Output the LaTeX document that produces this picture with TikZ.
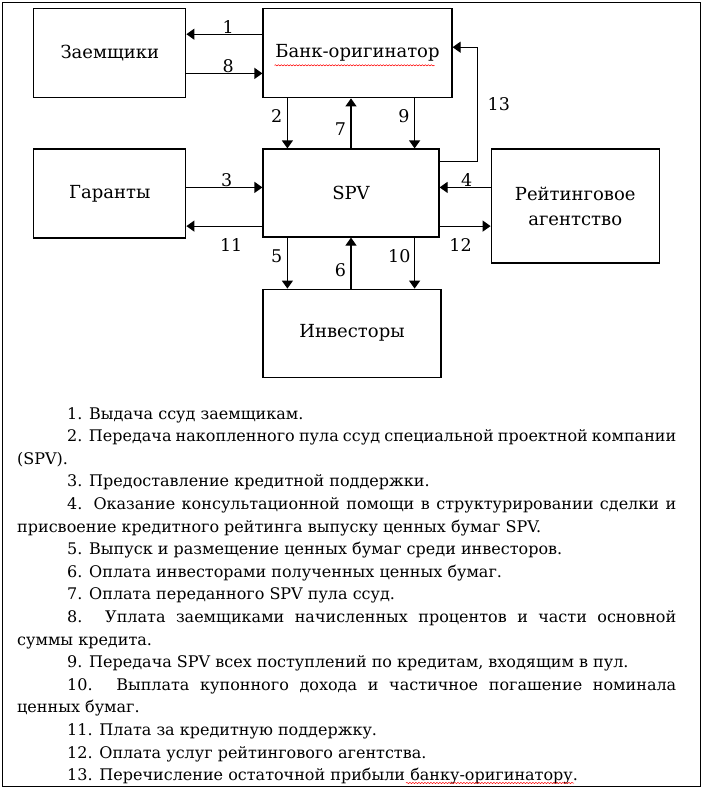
\documentclass[tikz,border=0pt]{standalone}
\usepackage{fontspec}
\setmainfont{DejaVu Serif}
\usetikzlibrary{arrows.meta,calc,positioning,decorations.pathmorphing}

\begin{document}
\begin{tikzpicture}[x=1pt, y=-1pt, node distance=50pt, >={Triangle[length=8pt,width=11pt]},
  box/.style={draw, line width=1.2pt, align=center, inner sep=0pt, font=\fontsize{18}{25}\selectfont},
  num/.style={inner sep=0.5pt, font=\fontsize{17.5}{19}\selectfont},
  link/.style={->, line width=1.2pt},
  wavy/.style={draw=red, line width=0.5pt, decorate, decoration={snake, amplitude=0.6pt, segment length=3pt}}]
  \useasboundingbox (0,0) rectangle (702,789);
  \draw[line width=1pt] (2.5,2.5) rectangle (700,786.5);
  \node[box, minimum width=176pt, minimum height=88pt] (spv) at (351,193) {SPV};
  \node[box, minimum width=189pt, minimum height=89pt, above=50pt of spv.north west, anchor=south west] (bank) {Банк-оригинатор};
  \node[box, minimum width=178pt, minimum height=88pt, below=51pt of spv.south west, anchor=north west] (inv) {Инвесторы};
  \node[box, minimum width=152pt, minimum height=89pt, left=76pt of spv.north west, anchor=north east] (gar) {Гаранты};
  \node[box, minimum width=152pt, minimum height=89pt, above=of gar] (zaem) {Заемщики};
  \node[box, minimum width=168pt, minimum height=114pt, right=51pt of spv.north east, anchor=north west] (rate) {Рейтинговое\\агентство};
  \coordinate (xl) at ($(spv.west)+(25,0)$);
  \coordinate (xr) at ($(spv.east)+(-25,0)$);
  \coordinate (xt) at ($(spv.east)+(38,0)$);
  \coordinate (ya) at ($(bank.north)+(0,26)$);
  \coordinate (yb) at ($(bank.south)+(0,-25)$);
  \coordinate (yc) at ($(spv.north)+(0,39)$);
  \coordinate (yd) at ($(spv.south)+(0,-11.5)$);
  \coordinate (ye) at ($(spv.north)+(0,13)$);
  \coordinate (yf) at ($(bank.north)+(0,39)$);
  \draw[link] (bank.west |- ya) -- node[num, above, pos=.45] (n1) {1} (zaem.east |- ya);
  \draw[link] (zaem.east |- yb) -- node[num, above, pos=.55] (n8) {8} (bank.west |- yb);
  \draw[link] (xl |- bank.south) -- node[num, left=4pt, pos=.36] (n2) {2} (xl |- spv.north);
  \draw[link] (spv.north) -- node[num, left=4pt, pos=.38] (n7) {7} (spv.north |- bank.south);
  \draw[link] (xr |- bank.south) -- node[num, left=4pt, pos=.36] (n9) {9} (xr |- spv.north);
  \draw[link] (gar.east |- yc) -- node[num, above, pos=.53] (n3) {3} (spv.west |- yc);
  \draw[link] (spv.west |- yd) -- node[num, below=11pt, pos=.41] (n11) {11} (gar.east |- yd);
  \draw[link] (rate.west |- yc) -- node[num, above, pos=.47] (n4) {4} (spv.east |- yc);
  \draw[link] (spv.east |- yd) -- node[num, below=11pt, pos=.41] (n12) {12} (rate.west |- yd);
  \draw[link] (xl |- spv.south) -- node[num, left=4pt, pos=.37] (n5) {5} (xl |- inv.north);
  \draw[link] (spv.south |- inv.north) -- node[num, left=4pt, pos=.37] (n6) {6} (spv.south);
  \draw[link] (xr |- spv.south) -- node[num, left=3pt, pos=.37] (n10) {10} (xr |- inv.north);
  \draw[link] (spv.east |- ye) -- (xt |- ye) -- node[num, right=9pt] (n13) {13} (xt |- yf) -- (bank.east |- yf);
  \draw[wavy] ($(bank.center)+(-83,12)$) -- ($(bank.center)+(77,12)$);
  \node[anchor=north west, text width=659pt, inner sep=0pt, align=justify, font=\fontsize{16}{22.6}\selectfont] (legend) at (17,407)
  {\hyphenpenalty=10000 \exhyphenpenalty=10000 \tolerance=10000 \parindent=50pt
   \hspace*{50pt}1. Выдача ссуд заемщикам.\par
   2. Передача накопленного пула ссуд специальной проектной компании\linebreak (SPV).\par
   3. Предоставление кредитной поддержки.\par
   4. Оказание консультационной помощи в структурировании сделки и\linebreak присвоение кредитного рейтинга выпуску ценных бумаг SPV.\par
   5. Выпуск и размещение ценных бумаг среди инвесторов.\par
   6. Оплата инвесторами полученных ценных бумаг.\par
   7. Оплата переданного SPV пула ссуд.\par
   8. Уплата заемщиками начисленных процентов и части основной\linebreak суммы кредита.\par
   9. Передача SPV всех поступлений по кредитам, входящим в пул.\par
   10. Выплата купонного дохода и частичное погашение номинала\linebreak ценных бумаг.\par
   11. Плата за кредитную поддержку.\par
   12. Оплата услуг рейтингового агентства.\par
   13. Перечисление остаточной прибыли банку-оригинатору.\par};
  \draw[wavy] (406,783) -- (574,783);
\end{tikzpicture}
\end{document}
